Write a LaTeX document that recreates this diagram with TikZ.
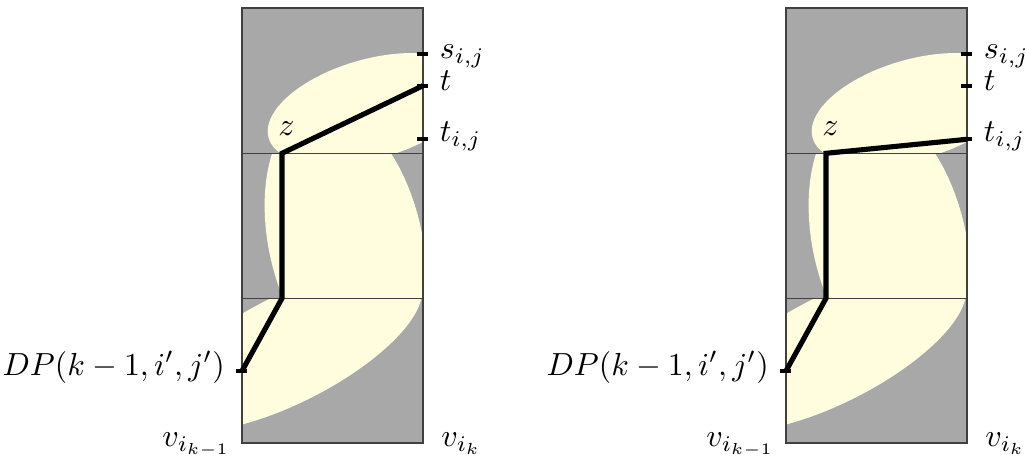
\documentclass[tikz,border=0pt]{standalone}
\usepackage{amsmath,amssymb}
\usepackage{tikz}

\definecolor{freeyel}{RGB}{255,253,222}
\definecolor{blockgray}{RGB}{168,168,168}

\begin{document}
\begin{tikzpicture}[x=0.011cm,y=-0.011cm,
    cellline/.style={draw=black!75,thin},
    route/.style={ultra thick},
    tickbar/.style={very thick}]
  \useasboundingbox (0,0) rectangle (1025,459);
  \foreach \dx/\e/\p in {0/t/L,544/tij/R} {
  \begin{scope}[shift={(\dx,0)}]
    \fill[blockgray] (242,8) rectangle (423,443);
    % free space, one cell at a time
    \begin{scope}
      \clip (242,8) rectangle (423,153.3);
      \fill[freeyel] plot[domain=0:360,samples=90,variable=\a] ({370.8+94.5*cos(\a)-41.2*sin(\a)},{109+56*sin(\a)});
    \end{scope}
    \begin{scope}
      \clip (242,153.3) rectangle (423,298.3);
      \fill[freeyel] plot[domain=0:360,samples=90,variable=\a] ({345.5+78*cos(\a)+21.5*sin(\a)},{242+137*sin(\a)});
    \end{scope}
    \begin{scope}
      \clip (242,298.3) rectangle (423,443);
      \fill[freeyel] plot[domain=0:360,samples=90,variable=\a] ({288+134*cos(\a)},{349.5-57.2*cos(\a)+59*sin(\a)});
    \end{scope}
    \draw[cellline] (242,8) rectangle (423,443);
    \draw[cellline] (242,153.3) -- (423,153.3);
    \draw[cellline] (242,298.3) -- (423,298.3);

    \coordinate (dp\p) at (242,371);
    \coordinate (zb\p) at (282,298.3);
    \coordinate (z\p) at (282,153.3);
    \coordinate (s\p) at (423,54);
    \coordinate (t\p) at (423,85.7);
    \coordinate (tij\p) at (423,139.3);

    \draw[route] (dp\p) -- (zb\p) -- (z\p) -- (\e\p);
    \foreach \c in {dp,s,t,tij}
      \draw[tickbar] (\c\p) ++(-5.5,0) -- ++(11,0);

    \node (slbl\p) [anchor=base west] at (428.5,58.5) {$s_{i,j}$};
    \node (tlbl\p) [anchor=base west] at (428.5,90) {$t$};
    \node (tijlbl\p) [anchor=base west] at (428.5,141.5) {$t_{i,j}$};
    \node (zlbl\p) [anchor=base] at (286.5,135) {$z$};
    \node (dplbl\p) [anchor=base east] at (236,375) {$DP(k-1,i',j')$};
    \node (vleft\p) [anchor=base east] at (242,446.5) {$v_{i_{k-1}}$};
    \node (vright\p) [anchor=base west] at (430,446.5) {$v_{i_k}$};
  \end{scope}
  }
\end{tikzpicture}
\end{document}
